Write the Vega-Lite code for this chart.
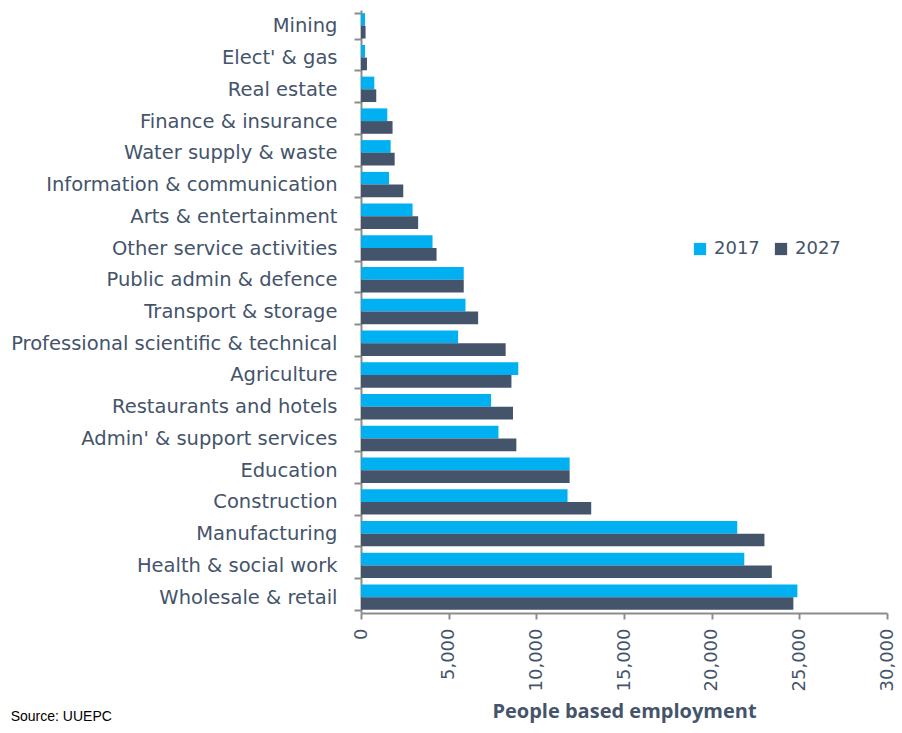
{
  "$schema": "https://vega.github.io/schema/vega-lite/v6.json",
  "width": 526,
  "height": 603,
  "padding": {"left": 10, "top": 0, "right": 10, "bottom": 0},
  "background": "white",
  "config": {"view": {"stroke": null}, "font": "DejaVu Sans"},
  "title": {"text": "Source: UUEPC", "orient": "bottom", "anchor": "start", "frame": "bounds", "font": "Liberation Sans", "fontSize": 14, "fontWeight": "normal", "color": "#000000", "offset": -12},
  "data": {"values": [
    {"sector": "Mining", "year": "2017", "value": 230},
    {"sector": "Mining", "year": "2027", "value": 260},
    {"sector": "Elect' & gas", "year": "2017", "value": 230},
    {"sector": "Elect' & gas", "year": "2027", "value": 340},
    {"sector": "Real estate", "year": "2017", "value": 760},
    {"sector": "Real estate", "year": "2027", "value": 870},
    {"sector": "Finance & insurance", "year": "2017", "value": 1500},
    {"sector": "Finance & insurance", "year": "2027", "value": 1800},
    {"sector": "Water supply & waste", "year": "2017", "value": 1690},
    {"sector": "Water supply & waste", "year": "2027", "value": 1920},
    {"sector": "Information & communication", "year": "2017", "value": 1600},
    {"sector": "Information & communication", "year": "2027", "value": 2410},
    {"sector": "Arts & entertainment", "year": "2017", "value": 2940},
    {"sector": "Arts & entertainment", "year": "2027", "value": 3260},
    {"sector": "Other service activities", "year": "2017", "value": 4080},
    {"sector": "Other service activities", "year": "2027", "value": 4310},
    {"sector": "Public admin & defence", "year": "2017", "value": 5860},
    {"sector": "Public admin & defence", "year": "2027", "value": 5860},
    {"sector": "Transport & storage", "year": "2017", "value": 5960},
    {"sector": "Transport & storage", "year": "2027", "value": 6680},
    {"sector": "Professional scientific & technical", "year": "2017", "value": 5540},
    {"sector": "Professional scientific & technical", "year": "2027", "value": 8250},
    {"sector": "Agriculture", "year": "2017", "value": 8970},
    {"sector": "Agriculture", "year": "2027", "value": 8580},
    {"sector": "Restaurants and hotels", "year": "2017", "value": 7420},
    {"sector": "Restaurants and hotels", "year": "2027", "value": 8670},
    {"sector": "Admin' & support services", "year": "2017", "value": 7840},
    {"sector": "Admin' & support services", "year": "2027", "value": 8860},
    {"sector": "Education", "year": "2017", "value": 11900},
    {"sector": "Education", "year": "2027", "value": 11900},
    {"sector": "Construction", "year": "2017", "value": 11780},
    {"sector": "Construction", "year": "2027", "value": 13130},
    {"sector": "Manufacturing", "year": "2017", "value": 21460},
    {"sector": "Manufacturing", "year": "2027", "value": 23010},
    {"sector": "Health & social work", "year": "2017", "value": 21860},
    {"sector": "Health & social work", "year": "2027", "value": 23430},
    {"sector": "Wholesale & retail", "year": "2017", "value": 24890},
    {"sector": "Wholesale & retail", "year": "2027", "value": 24660}
  ]},
  "mark": {"type": "bar"},
  "encoding": {
    "y": {
      "field": "sector", "type": "nominal", "sort": null,
      "scale": {"paddingInner": 0.2, "paddingOuter": 0.1},
      "axis": {
        "title": null, "tickBand": "extent", "labelFontSize": 19.5, "labelColor": "#44546A",
        "labelPadding": 17, "tickSize": 7, "tickWidth": 2, "tickColor": "#8C8C8C",
        "domainColor": "#8C8C8C", "domainWidth": 2, "labelLimit": 400
      }
    },
    "yOffset": {"field": "year", "type": "nominal"},
    "x": {
      "field": "value", "type": "quantitative",
      "scale": {"domain": [0, 30000]},
      "axis": {
        "title": "People based employment", "titleFontSize": 20, "titleFontWeight": "bold",
        "titleFont": "Open Sans", "titleColor": "#44546A", "titlePadding": 11,
        "values": [0, 5000, 10000, 15000, 20000, 25000, 30000], "format": ",.0f",
        "labelAngle": -90, "labelFontSize": 18, "labelColor": "#44546A", "labelPadding": 9,
        "grid": false, "tickSize": 6, "tickWidth": 2, "tickColor": "#8C8C8C",
        "domainColor": "#8C8C8C", "domainWidth": 2
      }
    },
    "color": {
      "field": "year", "type": "nominal",
      "scale": {"domain": ["2017", "2027"], "range": ["#00B0F0", "#44546A"]},
      "legend": {
        "title": null, "orient": "none", "legendX": 330, "legendY": 230, "direction": "horizontal",
        "symbolType": "square", "symbolSize": 150, "symbolStrokeWidth": 0,
        "labelFontSize": 18, "labelColor": "#44546A", "columnPadding": 12, "labelOffset": 5
      }
    }
  }
}
